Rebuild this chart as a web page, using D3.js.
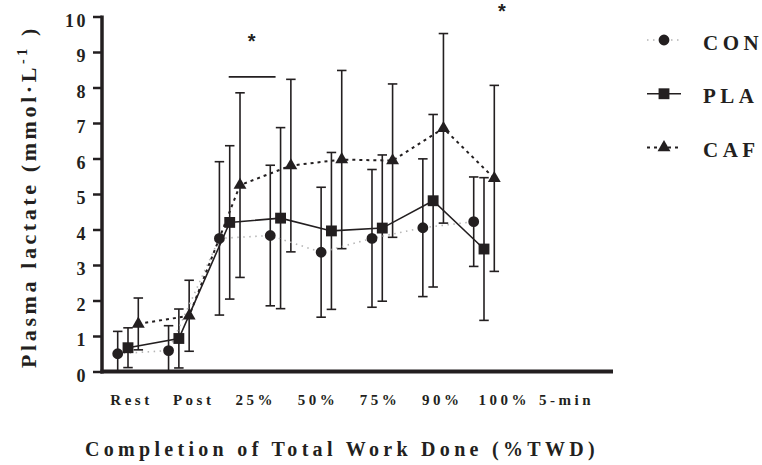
<!DOCTYPE html>
<html>
<head>
<meta charset="utf-8">
<script src="https://cdn.jsdelivr.net/npm/d3@7"></script>
<style>
  body { margin: 0; background: #fff; }
  svg { display: block; }
  .serif { font-family: "Liberation Serif", "Times New Roman", "DejaVu Serif", serif; font-weight: bold; }
</style>
</head>
<body>
<div id="chart"></div>
<script>
// data (mean and SD, mmol/L)
const categories = ["Rest", "Post", "25%", "50%", "75%", "90%", "100%", "5-min"];
const seriesNames = ["CON", "PLA", "CAF"];

const conMean = [0.50, 0.59, 3.75, 3.83, 3.36, 3.75, 4.05, 4.22];
const conSD   = [0.63, 0.70, 2.16, 1.98, 1.83, 1.94, 1.94, 1.26];
const plaMean = [0.67, 0.93, 4.20, 4.32, 3.96, 4.04, 4.81, 3.45];
const plaSD   = [0.56, 0.83, 2.16, 2.55, 2.21, 2.06, 2.43, 2.01];
const cafMean = [1.34, 1.57, 5.25, 5.80, 5.97, 5.94, 6.85, 5.44];
const cafSD   = [0.73, 1.00, 2.60, 2.43, 2.51, 2.16, 2.67, 2.62];

const yTickValues = [0, 1, 2, 3, 4, 5, 6, 7, 8, 9, 10];

// significance marks: bar over 25%..50%, stars
const sigBar = {from: "25%", to: "50%", value: 8.3};
const stars = [{cat: "25%", value: 9.1, shift: 22}, {cat: "5-min", value: 9.95, shift: 18}];

const yTitle = "Plasma lactate (mmol\u00B7L";
const xTitle = "Completion of Total Work Done (%TWD)";

// ---- layout
const width = 762, height = 465;
const plotLeft = 102, plotRight = 613;
const yBottom = 371.5, yTop = 16.5;
const ink = "#231f20";

const series = [
  {name: "CON", mean: conMean, sd: conSD, symbol: d3.symbolCircle, size: 92,
   dash: "1.5,4.5", stroke: "#b5b5b5", lw: 1.6},
  {name: "PLA", mean: plaMean, sd: plaSD, symbol: d3.symbolSquare, size: 118,
   dash: null, stroke: ink, lw: 1.6},
  {name: "CAF", mean: cafMean, sd: cafSD, symbol: d3.symbolTriangle, size: 72,
   dash: "3,4", stroke: ink, lw: 2}
];

// scales
const x = d3.scalePoint(categories, [128, 484]);
const offset = d3.scalePoint(seriesNames, [-10.3, 10.3]);
const xLabels = d3.scalePoint(categories, [131, 566]);
const y = d3.scaleLinear([0, 10], [yBottom, yTop]);

const svg = d3.create("svg")
  .attr("width", width)
  .attr("height", height)
  .attr("viewBox", [0, 0, width, height]);

svg.append("rect").attr("width", width).attr("height", height).attr("fill", "#fff");

// y axis
svg.append("g")
  .attr("transform", `translate(${plotLeft},0)`)
  .call(d3.axisLeft(y).tickValues(yTickValues).tickSize(9).tickPadding(5).tickSizeOuter(0))
  .call(g => g.select(".domain").remove())
  .call(g => g.selectAll(".tick line").attr("stroke", ink).attr("stroke-width", 2.5))
  .call(g => g.selectAll(".tick text")
    .attr("class", "serif")
    .attr("fill", ink)
    .attr("dy", "0.55em")
    .attr("font-size", 18)
    .style("letter-spacing", "2.5px"));

svg.append("line")
  .attr("x1", plotLeft).attr("x2", plotLeft)
  .attr("y1", yTop - 1).attr("y2", yBottom + 2)
  .attr("stroke", ink).attr("stroke-width", 3.5);

// x axis (labels only, the line is drawn below)
svg.append("g")
  .attr("transform", `translate(0,${yBottom})`)
  .call(d3.axisBottom(xLabels).tickSize(0))
  .call(g => g.select(".domain").remove())
  .call(g => g.selectAll(".tick text")
    .attr("class", "serif")
    .attr("fill", ink)
    .attr("y", 33.5)
    .attr("dy", 0)
    .attr("font-size", 15)
    .style("letter-spacing", "3.5px"));

svg.append("line")
  .attr("x1", plotLeft - 1.5).attr("x2", plotRight)
  .attr("y1", yBottom).attr("y2", yBottom)
  .attr("stroke", ink).attr("stroke-width", 4);

// error bars
const capW = 9.5;
series.forEach(s => {
  const g = svg.append("g").attr("stroke", ink).attr("stroke-width", 1.6);
  categories.forEach((c, i) => {
    const cx = x(c) + offset(s.name);
    const hi = s.mean[i] + s.sd[i];
    const lo = Math.max(0, s.mean[i] - s.sd[i]);
    g.append("line").attr("x1", cx).attr("x2", cx).attr("y1", y(hi)).attr("y2", y(lo));
    g.append("line").attr("x1", cx - capW / 2).attr("x2", cx + capW / 2).attr("y1", y(hi)).attr("y2", y(hi));
    if (s.mean[i] - s.sd[i] > 0)
      g.append("line").attr("x1", cx - capW / 2).attr("x2", cx + capW / 2).attr("y1", y(lo)).attr("y2", y(lo));
  });
});

// connecting lines
series.forEach(s => {
  const line = d3.line()
    .x((d, i) => x(categories[i]) + offset(s.name))
    .y(d => y(d));
  svg.append("path")
    .datum(s.mean)
    .attr("fill", "none")
    .attr("stroke", s.stroke)
    .attr("stroke-width", s.lw)
    .attr("stroke-dasharray", s.dash)
    .attr("d", line);
});

// markers
series.forEach(s => {
  svg.append("g")
    .selectAll("path")
    .data(s.mean)
    .join("path")
    .attr("transform", (d, i) => `translate(${x(categories[i]) + offset(s.name)},${y(d)})`)
    .attr("d", d3.symbol(s.symbol, s.size))
    .attr("fill", ink);
});

// significance
svg.append("line")
  .attr("x1", x(sigBar.from) - 1).attr("x2", x(sigBar.to) - 5)
  .attr("y1", y(sigBar.value)).attr("y2", y(sigBar.value))
  .attr("stroke", ink).attr("stroke-width", 1.6);

svg.append("g")
  .selectAll("text")
  .data(stars)
  .join("text")
  .attr("x", d => x(d.cat) + d.shift)
  .attr("y", d => y(d.value))
  .attr("text-anchor", "middle")
  .attr("fill", ink)
  .attr("font-family", "Liberation Sans, Arial, sans-serif")
  .attr("font-weight", "bold")
  .attr("font-size", 20)
  .text("*");

// legend
const legend = svg.append("g").attr("transform", "translate(647,0)");
const legendY = d3.scalePoint(seriesNames, [40, 147.5]);
series.forEach(s => {
  const gy = legendY(s.name);
  legend.append("line")
    .attr("x1", 0).attr("x2", 34)
    .attr("y1", gy).attr("y2", gy)
    .attr("stroke", s.stroke)
    .attr("stroke-width", s.lw)
    .attr("stroke-dasharray", s.dash);
  legend.append("path")
    .attr("transform", `translate(17,${gy})`)
    .attr("d", d3.symbol(s.symbol, s.size))
    .attr("fill", ink);
  legend.append("text")
    .attr("class", "serif")
    .attr("x", 56)
    .attr("y", gy + 9.5)
    .attr("fill", ink)
    .attr("font-size", 21)
    .style("letter-spacing", "4.5px")
    .text(s.name);
});

// axis titles
const yt = svg.append("text")
  .attr("class", "serif")
  .attr("transform", `translate(36,${(28 + 365) / 2}) rotate(-90)`)
  .attr("text-anchor", "middle")
  .attr("fill", ink)
  .attr("font-size", 22)
  .style("letter-spacing", "3.6px");
yt.append("tspan").text(yTitle);
yt.append("tspan").attr("dy", -9).attr("font-size", 14).text("-1");
yt.append("tspan").attr("dy", 9).text(" )");

svg.append("text")
  .attr("class", "serif")
  .attr("x", (85 + 599) / 2)
  .attr("y", 456)
  .attr("text-anchor", "middle")
  .attr("fill", ink)
  .attr("font-size", 20)
  .style("letter-spacing", "4.3px")
  .text(xTitle);

document.getElementById("chart").appendChild(svg.node());
</script>
</body>
</html>
